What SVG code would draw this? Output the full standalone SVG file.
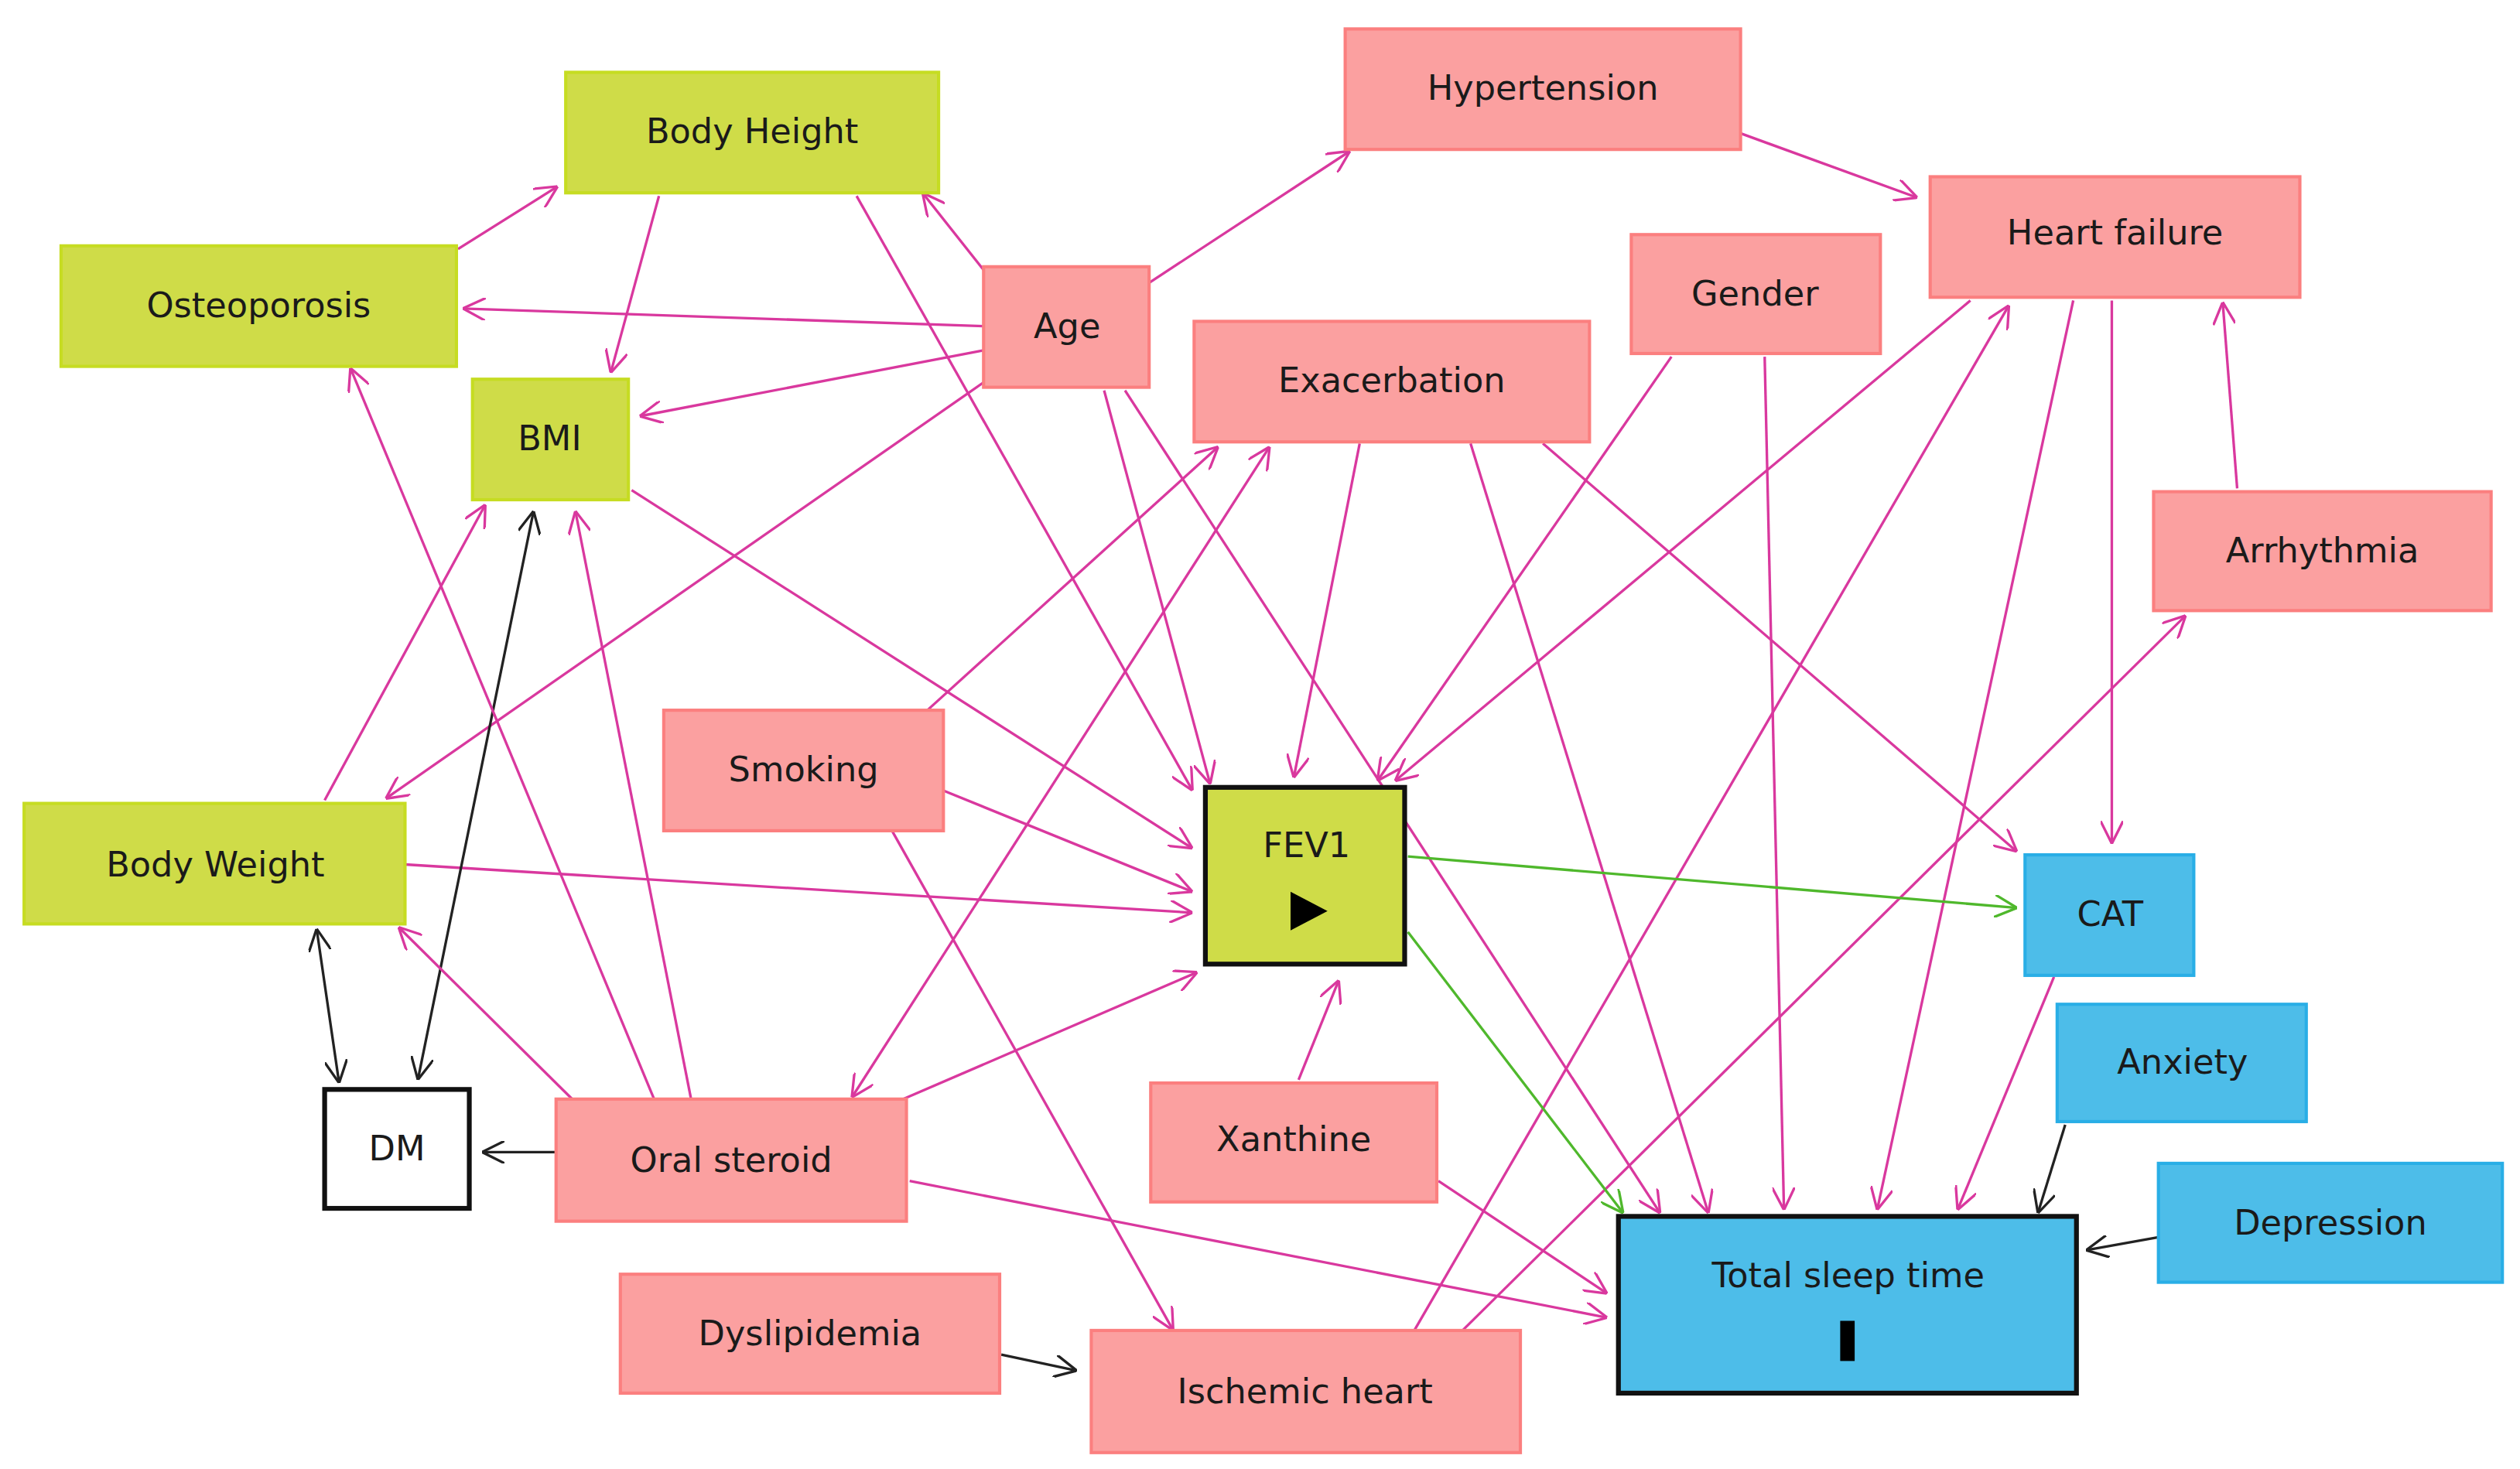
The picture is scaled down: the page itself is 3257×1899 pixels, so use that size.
<svg xmlns="http://www.w3.org/2000/svg" width="3257" height="1899" viewBox="0 0 3257 1899">
<style>
.g{fill:#cfdc48;stroke:#c6dc22;stroke-width:2}
.p{fill:#fba0a0;stroke:#fb7f7f;stroke-width:2}
.b{fill:#4dbde9;stroke:#29aee6;stroke-width:2}
.k{stroke:#111;stroke-width:3}
.w{fill:#fff}
text{font-family:"DejaVu Sans","Verdana",sans-serif;font-size:21.5px;fill:#1a1a1a;text-anchor:middle;dominant-baseline:central}
.e line{stroke:#d9389e;stroke-width:1.6;fill:none}
.e line.m{marker-end:url(#ap)}
.e line.mm{marker-end:url(#ap);marker-start:url(#aps)}
.e line.bk{stroke:#222;marker-end:url(#ak)}
.e line.bb{stroke:#222;marker-end:url(#ak);marker-start:url(#aks)}
.e line.gr{stroke:#4fb82c;marker-end:url(#ag)}
</style>
<defs>
<marker id="ap" viewBox="0 0 14 14" refX="14" refY="7" markerWidth="14" markerHeight="14" markerUnits="userSpaceOnUse" orient="auto"><path d="M0,0 L14,7 L0,14" fill="none" stroke="#d9389e" stroke-width="1.6"/></marker>
<marker id="aps" viewBox="0 0 14 14" refX="14" refY="7" markerWidth="14" markerHeight="14" markerUnits="userSpaceOnUse" orient="auto-start-reverse"><path d="M0,0 L14,7 L0,14" fill="none" stroke="#d9389e" stroke-width="1.6"/></marker>
<marker id="ak" viewBox="0 0 14 14" refX="14" refY="7" markerWidth="14" markerHeight="14" markerUnits="userSpaceOnUse" orient="auto"><path d="M0,0 L14,7 L0,14" fill="none" stroke="#222" stroke-width="1.6"/></marker>
<marker id="aks" viewBox="0 0 14 14" refX="14" refY="7" markerWidth="14" markerHeight="14" markerUnits="userSpaceOnUse" orient="auto-start-reverse"><path d="M0,0 L14,7 L0,14" fill="none" stroke="#222" stroke-width="1.6"/></marker>
<marker id="ag" viewBox="0 0 14 14" refX="14" refY="7" markerWidth="14" markerHeight="14" markerUnits="userSpaceOnUse" orient="auto"><path d="M0,0 L14,7 L0,14" fill="none" stroke="#4fb82c" stroke-width="1.6"/></marker>
</defs>
<rect width="3257" height="1899" fill="#fff"/>
<g transform="scale(2.0772)">
<g id="edges" class="e">
<line class="m" x1="285" y1="155" x2="347" y2="116"/>
<line class="m" x1="410" y1="122" x2="380" y2="232"/>
<line class="m" x1="533" y1="122" x2="742" y2="492"/>
<line class="m" x1="612" y1="168" x2="574" y2="120"/>
<line class="m" x1="612" y1="203" x2="288" y2="192"/>
<line class="m" x1="612" y1="218" x2="398" y2="259"/>
<line class="m" x1="715" y1="176" x2="840" y2="94"/>
<line class="m" x1="612" y1="238" x2="240" y2="497"/>
<line class="m" x1="687" y1="243" x2="753" y2="488"/>
<line class="m" x1="700" y1="243" x2="1033" y2="755"/>
<line class="m" x1="1083" y1="83" x2="1193" y2="123"/>
<line class="m" x1="846" y1="276" x2="805" y2="484"/>
<line class="m" x1="915" y1="276" x2="1063" y2="755"/>
<line class="m" x1="960" y1="276" x2="1255" y2="530"/>
<line class="m" x1="1040" y1="222" x2="857" y2="486"/>
<line class="m" x1="1098" y1="222" x2="1110" y2="753"/>
<line class="m" x1="1226" y1="187" x2="868" y2="486"/>
<line class="m" x1="1290" y1="187" x2="1168" y2="753"/>
<line class="m" x1="1314" y1="187" x2="1314" y2="525"/>
<line class="m" x1="1392" y1="304" x2="1383" y2="188"/>
<line class="m" x1="393" y1="305" x2="742" y2="528"/>
<line class="m" x1="577" y1="442" x2="758" y2="278"/>
<line class="m" x1="587" y1="492" x2="742" y2="555"/>
<line class="m" x1="555" y1="517" x2="730" y2="828"/>
<line class="m" x1="202" y1="498" x2="302" y2="314"/>
<line class="m" x1="252" y1="538" x2="742" y2="568"/>
<line class="bb" x1="197" y1="578" x2="211" y2="674"/>
<line class="bb" x1="260" y1="672" x2="332" y2="318"/>
<line class="m" x1="407" y1="684" x2="218" y2="229"/>
<line class="m" x1="430" y1="684" x2="358" y2="318"/>
<line class="m" x1="356" y1="684" x2="248" y2="577"/>
<line class="bk" x1="346" y1="717" x2="300" y2="717"/>
<line class="mm" x1="530" y1="683" x2="790" y2="278"/>
<line class="m" x1="562" y1="684" x2="745" y2="605"/>
<line class="m" x1="566" y1="735" x2="1000" y2="820"/>
<line class="m" x1="808" y1="672" x2="833" y2="610"/>
<line class="m" x1="895" y1="735" x2="1000" y2="805"/>
<line class="m" x1="880" y1="828" x2="1250" y2="190"/>
<line class="m" x1="910" y1="828" x2="1360" y2="383"/>
<line class="bk" x1="623" y1="843" x2="670" y2="853"/>
<line class="gr" x1="876" y1="533" x2="1255" y2="565"/>
<line class="gr" x1="876" y1="580" x2="1010" y2="755"/>
<line class="m" x1="1278" y1="608" x2="1218" y2="753"/>
<line class="bk" x1="1285" y1="700" x2="1268" y2="755"/>
<line class="bk" x1="1343" y1="770" x2="1298" y2="778"/>
</g>
<g id="n-bodyheight"><rect class="g" x="352" y="45" width="232" height="75"/><text x="468" y="82">Body Height</text></g>
<g id="n-osteoporosis"><rect class="g" x="38" y="153" width="246" height="75"/><text x="161" y="190">Osteoporosis</text></g>
<g id="n-bmi"><rect class="g" x="294" y="236" width="97" height="75"/><text x="342" y="273">BMI</text></g>
<g id="n-bodyweight"><rect class="g" x="15" y="500" width="237" height="75"/><text x="134" y="538">Body Weight</text></g>
<g id="n-dm"><rect class="w k" x="202" y="678" width="90" height="74"/><text x="247" y="715">DM</text></g>
<g id="n-age"><rect class="p" x="612" y="166" width="103" height="75"/><text x="664" y="203">Age</text></g>
<g id="n-hypertension"><rect class="p" x="837" y="18" width="246" height="75"/><text x="960" y="55">Hypertension</text></g>
<g id="n-heartfailure"><rect class="p" x="1201" y="110" width="230" height="75"/><text x="1316" y="145">Heart failure</text></g>
<g id="n-gender"><rect class="p" x="1015" y="146" width="155" height="74"/><text x="1092" y="183">Gender</text></g>
<g id="n-exacerbation"><rect class="p" x="743" y="200" width="246" height="75"/><text x="866" y="237">Exacerbation</text></g>
<g id="n-arrhythmia"><rect class="p" x="1340" y="306" width="210" height="74"/><text x="1445" y="343">Arrhythmia</text></g>
<g id="n-smoking"><rect class="p" x="413" y="442" width="174" height="75"/><text x="500" y="479">Smoking</text></g>
<g id="n-fev1"><rect class="g k" x="750" y="490" width="124" height="110"/><text x="813" y="526">FEV1</text><path d="M803,555 L826,567 L803,579 Z" fill="#000"/></g>
<g id="n-cat"><rect class="b" x="1260" y="532" width="105" height="75"/><text x="1313" y="569">CAT</text></g>
<g id="n-anxiety"><rect class="b" x="1280" y="625" width="155" height="73"/><text x="1358" y="661">Anxiety</text></g>
<g id="n-depression"><rect class="b" x="1343" y="724" width="214" height="74"/><text x="1450" y="761">Depression</text></g>
<g id="n-xanthine"><rect class="p" x="716" y="674" width="178" height="74"/><text x="805" y="709">Xanthine</text></g>
<g id="n-oralsteroid"><rect class="p" x="346" y="684" width="218" height="76"/><text x="455" y="722">Oral steroid</text></g>
<g id="n-totalsleep"><rect class="b k" x="1007" y="757" width="285" height="110"/><text x="1150" y="794">Total sleep time</text><rect x="1145" y="822" width="9" height="25" fill="#000"/></g>
<g id="n-dyslipidemia"><rect class="p" x="386" y="793" width="236" height="74"/><text x="504" y="830">Dyslipidemia</text></g>
<g id="n-ischemic"><rect class="p" x="679" y="828" width="267" height="76"/><text x="812" y="866">Ischemic heart</text></g>
</g>
</svg>
